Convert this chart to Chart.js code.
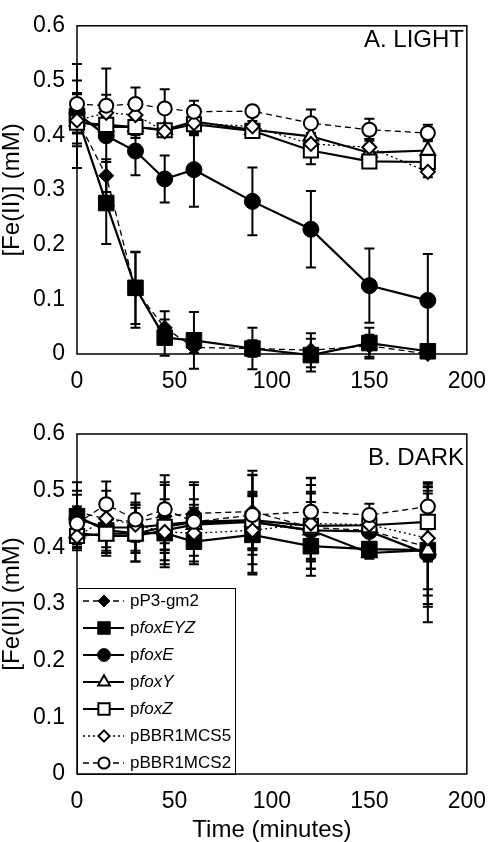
<!DOCTYPE html>
<html>
<head>
<meta charset="utf-8">
<script src="https://cdn.jsdelivr.net/npm/chart.js@4.4.0/dist/chart.umd.min.js"></script>
<style>
  body { margin: 0; background: #fff; width: 500px; height: 842px; position: relative; overflow: hidden; }
  #boxA { position: absolute; left: 0; top: 0; width: 500px; height: 400px; }
  #boxB { position: absolute; left: 0; top: 400px; width: 500px; height: 442px; }
</style>
</head>
<body>
<div id="boxA"><canvas id="chartA" width="500" height="400"></canvas></div>
<div id="boxB"><canvas id="chartB" width="500" height="442"></canvas></div>
<script>
// sampling times (minutes)
const times = [0, 15, 30, 45, 60, 90, 120, 150, 180];
const seriesNames = ['pP3-gm2', 'pfoxEYZ', 'pfoxE', 'pfoxY', 'pfoxZ', 'pBBR1MCS5', 'pBBR1MCS2'];
const xTickValues = [0, 50, 100, 150, 200];
const xTickLabels = ['0', '50', '100', '150', '200'];
const yTickValues = [0, 0.1, 0.2, 0.3, 0.4, 0.5, 0.6];
const yTickLabels = ['0', '0.1', '0.2', '0.3', '0.4', '0.5', '0.6'];

// A. LIGHT  - [Fe(II)] mM and error
const lightP3 = [0.43, 0.326, 0.117, 0.048, 0.012, 0.01, 0.007, 0.015, 0.0];
const lightP3Err = [0.045, 0.03, 0.069, 0.03, 0.01, 0.015, 0.031, 0.02, 0.005];
const lightEYZ = [0.435, 0.276, 0.121, 0.03, 0.025, 0.01, -0.002, 0.02, 0.005];
const lightEYZErr = [0.095, 0.075, 0.066, 0.033, 0.052, 0.038, 0.03, 0.028, 0.01];
const lightE = [0.44, 0.399, 0.371, 0.32, 0.337, 0.279, 0.228, 0.125, 0.098];
const lightEErr = [0.06, 0.123, 0.044, 0.043, 0.068, 0.062, 0.07, 0.068, 0.085];
const lightY = [0.425, 0.415, 0.415, 0.41, 0.425, 0.41, 0.398, 0.368, 0.372];
const lightYErr = [0.02, 0.015, 0.015, 0.01, 0.015, 0.01, 0.02, 0.015, 0.02];
const lightZ = [0.423, 0.419, 0.415, 0.409, 0.42, 0.408, 0.372, 0.352, 0.351];
const lightZErr = [0.02, 0.015, 0.02, 0.01, 0.02, 0.01, 0.025, 0.01, 0.015];
const lightMCS5 = [0.427, 0.441, 0.437, 0.407, 0.422, 0.416, 0.384, 0.378, 0.333];
const lightMCS5Err = [0.01, 0.02, 0.015, 0.01, 0.02, 0.01, 0.02, 0.015, 0.01];
const lightMCS2 = [0.457, 0.454, 0.457, 0.449, 0.443, 0.444, 0.422, 0.41, 0.404];
const lightMCS2Err = [0.02, 0.02, 0.03, 0.035, 0.02, 0.01, 0.025, 0.02, 0.015];

// B. DARK
const darkP3 = [0.463, 0.45, 0.445, 0.455, 0.46, 0.463, 0.435, 0.43, 0.40];
const darkP3Err = [0.03, 0.05, 0.03, 0.06, 0.05, 0.065, 0.06, 0.01, 0.1];
const darkEYZ = [0.455, 0.43, 0.425, 0.425, 0.41, 0.422, 0.402, 0.397, 0.395];
const darkEYZErr = [0.06, 0.04, 0.05, 0.06, 0.04, 0.07, 0.04, 0.01, 0.1];
const darkE = [0.45, 0.435, 0.435, 0.44, 0.445, 0.445, 0.43, 0.428, 0.388];
const darkEErr = [0.05, 0.05, 0.06, 0.07, 0.07, 0.09, 0.08, 0.02, 0.12];
const darkY = [0.425, 0.42, 0.42, 0.43, 0.44, 0.445, 0.43, 0.39, 0.395];
const darkYErr = [0.02, 0.03, 0.03, 0.04, 0.03, 0.05, 0.05, 0.01, 0.08];
const darkZ = [0.42, 0.424, 0.424, 0.436, 0.445, 0.448, 0.438, 0.439, 0.445];
const darkZErr = [0.02, 0.03, 0.03, 0.04, 0.04, 0.05, 0.06, 0.01, 0.07];
const darkMCS5 = [0.419, 0.451, 0.44, 0.427, 0.425, 0.43, 0.442, 0.44, 0.416];
const darkMCS5Err = [0.02, 0.03, 0.03, 0.05, 0.04, 0.06, 0.08, 0.02, 0.09];
const darkMCS2 = [0.442, 0.476, 0.449, 0.467, 0.445, 0.457, 0.463, 0.457, 0.472];
const darkMCS2Err = [0.03, 0.04, 0.03, 0.06, 0.03, 0.07, 0.06, 0.02, 0.04];

const FONT = "'Liberation Sans', Arial, sans-serif";

// marker / line look per strain
const looks = {
  'pP3-gm2':   { shape: 'rectRot',  r: 7.5, fill: '#000', bw: 1, dash: [6, 4], lw: 1.3 },
  'pfoxEYZ':   { shape: 'rect',     r: 11,  fill: '#000', bw: 1, dash: [],     lw: 2.2 },
  'pfoxE':     { shape: 'circle',   r: 8,   fill: '#000', bw: 1, dash: [],     lw: 2.2 },
  'pfoxY':     { shape: 'triangle', r: 8.5, fill: '#fff', bw: 2, dash: [],     lw: 2.2 },
  'pfoxZ':     { shape: 'rect',     r: 10,  fill: '#fff', bw: 2, dash: [],     lw: 2.2 },
  'pBBR1MCS5': { shape: 'rectRot',  r: 7,   fill: '#fff', bw: 2, dash: [2, 3], lw: 1.3 },
  'pBBR1MCS2': { shape: 'circle',   r: 7,   fill: '#fff', bw: 2, dash: [6, 4], lw: 1.3 }
};
// first one ends up on top
const drawOrder = ['pBBR1MCS2', 'pBBR1MCS5', 'pfoxZ', 'pfoxY', 'pfoxE', 'pfoxEYZ', 'pP3-gm2'];

function buildDatasets(vals, errs, fills) {
  return drawOrder.map(function (name) {
    const lk = looks[name];
    return {
      label: name,
      data: times.map((t, i) => ({ x: t, y: vals[name][i] })),
      errors: errs[name],
      borderColor: '#000',
      borderWidth: lk.lw,
      borderDash: lk.dash,
      pointStyle: lk.shape,
      pointRadius: lk.r,
      pointHoverRadius: lk.r,
      pointBorderWidth: lk.bw,
      pointBorderColor: '#000',
      pointBackgroundColor: (fills && fills[name]) ? fills[name] : lk.fill,
      fill: false,
      tension: 0,
      clip: false
    };
  });
}

function drawMark(ctx, lk, x, y, r) {
  ctx.save();
  ctx.setLineDash([]);
  ctx.fillStyle = lk.fill;
  ctx.strokeStyle = '#000';
  ctx.lineWidth = lk.bw;
  ctx.beginPath();
  if (lk.shape == 'circle') {
    ctx.arc(x, y, r, 0, Math.PI * 2);
  } else if (lk.shape == 'rect') {
    const s = r * Math.SQRT1_2;
    ctx.rect(x - s, y - s, 2 * s, 2 * s);
  } else if (lk.shape == 'rectRot') {
    ctx.moveTo(x, y - r); ctx.lineTo(x + r, y); ctx.lineTo(x, y + r); ctx.lineTo(x - r, y); ctx.closePath();
  } else {
    for (let k = 0; k < 3; k++) {
      const a = k * 2 * Math.PI / 3;
      const px = x + Math.sin(a) * r, py = y - Math.cos(a) * r;
      if (k == 0) ctx.moveTo(px, py); else ctx.lineTo(px, py);
    }
    ctx.closePath();
  }
  ctx.fill();
  ctx.stroke();
  ctx.restore();
}

const panelPlugin = {
  id: 'panel',
  beforeDatasetsDraw(chart) {
    const ctx = chart.ctx, a = chart.chartArea;
    const ys = chart.scales.y;
    ctx.save();
    // frame
    ctx.strokeStyle = '#000';
    ctx.lineWidth = 1.5;
    ctx.strokeRect(a.left, a.top, a.right - a.left, a.bottom - a.top);
    // error bars
    ctx.lineWidth = 2;
    chart.data.datasets.forEach(function (ds, i) {
      const meta = chart.getDatasetMeta(i);
      ds.data.forEach(function (p, j) {
        const e = ds.errors[j];
        if (!e) return;
        const x = meta.data[j].x;
        const yt = ys.getPixelForValue(p.y + e);
        const yb = ys.getPixelForValue(p.y - e);
        ctx.beginPath();
        ctx.moveTo(x, yt); ctx.lineTo(x, yb);
        ctx.moveTo(x - 5, yt); ctx.lineTo(x + 5, yt);
        ctx.moveTo(x - 5, yb); ctx.lineTo(x + 5, yb);
        ctx.stroke();
      });
    });
    ctx.restore();
  },
  afterDraw(chart) {
    const o = chart.options.plugins.panel;
    const ctx = chart.ctx;
    ctx.save();
    ctx.fillStyle = '#000';
    ctx.font = '24px ' + FONT;
    ctx.textAlign = 'right';
    ctx.textBaseline = 'alphabetic';
    ctx.fillText(o.label, o.labelX, o.labelY);
    if (o.legend) {
      const L = o.legend;
      ctx.strokeStyle = '#000';
      ctx.lineWidth = 1;
      ctx.strokeRect(L.x + 0.5, L.y + 0.5, L.w, L.h);
      seriesNames.forEach(function (name, i) {
        const lk = looks[name];
        const cy = L.y + 13 + i * 27;
        ctx.save();
        ctx.setLineDash(lk.dash);
        ctx.lineWidth = lk.lw;
        ctx.beginPath();
        ctx.moveTo(L.x + 6, cy); ctx.lineTo(L.x + 47, cy);
        ctx.stroke();
        ctx.restore();
        drawMark(ctx, lk, L.x + 27, cy, lk.r * 0.8);
        ctx.textAlign = 'left';
        ctx.textBaseline = 'middle';
        ctx.font = '17px ' + FONT;
        let tx = L.x + 53;
        if (name.indexOf('pfox') == 0) {
          ctx.fillText('p', tx, cy);
          tx += ctx.measureText('p').width;
          ctx.font = 'italic 17px ' + FONT;
          ctx.fillText(name.slice(1), tx, cy);
        } else {
          ctx.fillText(name, tx, cy);
        }
      });
    }
    ctx.restore();
  }
};

function makeChart(id, vals, errs, fills, pad, xHeight, xTitle, panel) {
  return new Chart(document.getElementById(id), {
    type: 'line',
    data: { datasets: buildDatasets(vals, errs, fills) },
    plugins: [panelPlugin],
    options: {
      responsive: false,
      animation: false,
      events: [],
      layout: { padding: pad },
      plugins: { legend: { display: false }, tooltip: { enabled: false }, panel: panel },
      scales: {
        x: {
          type: 'linear', min: 0, max: 200,
          grid: { display: false, drawTicks: false },
          border: { display: false },
          afterBuildTicks: s => { s.ticks = xTickValues.map(v => ({ value: v })); },
          afterFit: s => { s.height = xHeight; },
          ticks: {
            color: '#000', font: { family: FONT, size: 23 }, padding: 14, maxRotation: 0, autoSkip: false,
            callback: v => xTickLabels[xTickValues.indexOf(v)]
          },
          title: {
            display: !!xTitle, text: xTitle || '', color: '#000',
            font: { family: FONT, size: 24, lineHeight: 1 }, padding: { top: 0, bottom: 0 }
          }
        },
        y: {
          type: 'linear', min: 0, max: 0.6,
          grid: { display: false, drawTicks: false },
          border: { display: false },
          afterBuildTicks: s => { s.ticks = yTickValues.map(v => ({ value: v })); },
          afterFit: s => { s.width = 77; },
          ticks: {
            color: '#000', font: { family: FONT, size: 23 }, padding: 12,
            callback: v => yTickLabels[yTickValues.findIndex(t => Math.abs(t - v) < 1e-9)]
          },
          title: {
            display: true, text: '[Fe(II)] (mM)', color: '#000',
            font: { family: FONT, size: 24, lineHeight: 1 }, padding: 0
          }
        }
      }
    }
  });
}

const lightVals = { 'pP3-gm2': lightP3, 'pfoxEYZ': lightEYZ, 'pfoxE': lightE, 'pfoxY': lightY, 'pfoxZ': lightZ, 'pBBR1MCS5': lightMCS5, 'pBBR1MCS2': lightMCS2 };
const lightErrs = { 'pP3-gm2': lightP3Err, 'pfoxEYZ': lightEYZErr, 'pfoxE': lightEErr, 'pfoxY': lightYErr, 'pfoxZ': lightZErr, 'pBBR1MCS5': lightMCS5Err, 'pBBR1MCS2': lightMCS2Err };
const darkVals = { 'pP3-gm2': darkP3, 'pfoxEYZ': darkEYZ, 'pfoxE': darkE, 'pfoxY': darkY, 'pfoxZ': darkZ, 'pBBR1MCS5': darkMCS5, 'pBBR1MCS2': darkMCS2 };
const darkErrs = { 'pP3-gm2': darkP3Err, 'pfoxEYZ': darkEYZErr, 'pfoxE': darkEErr, 'pfoxY': darkYErr, 'pfoxZ': darkZErr, 'pBBR1MCS5': darkMCS5Err, 'pBBR1MCS2': darkMCS2Err };
// in the dark panel the 150 min triangle is printed solid
const darkFills = { 'pfoxY': ['#fff', '#fff', '#fff', '#fff', '#fff', '#fff', '#fff', '#000', '#fff'] };

makeChart('chartA', lightVals, lightErrs, null,
  { top: 12, right: 21, bottom: 6, left: 0 }, 40, null,
  { label: 'A. LIGHT', labelX: 464, labelY: 47 });

makeChart('chartB', darkVals, darkErrs, darkFills,
  { top: 34, right: 21, bottom: 0, left: 0 }, 68, 'Time (minutes)',
  { label: 'B. DARK', labelX: 464, labelY: 65, legend: { x: 77, y: 188, w: 158, h: 186 } });
</script>
</body>
</html>
